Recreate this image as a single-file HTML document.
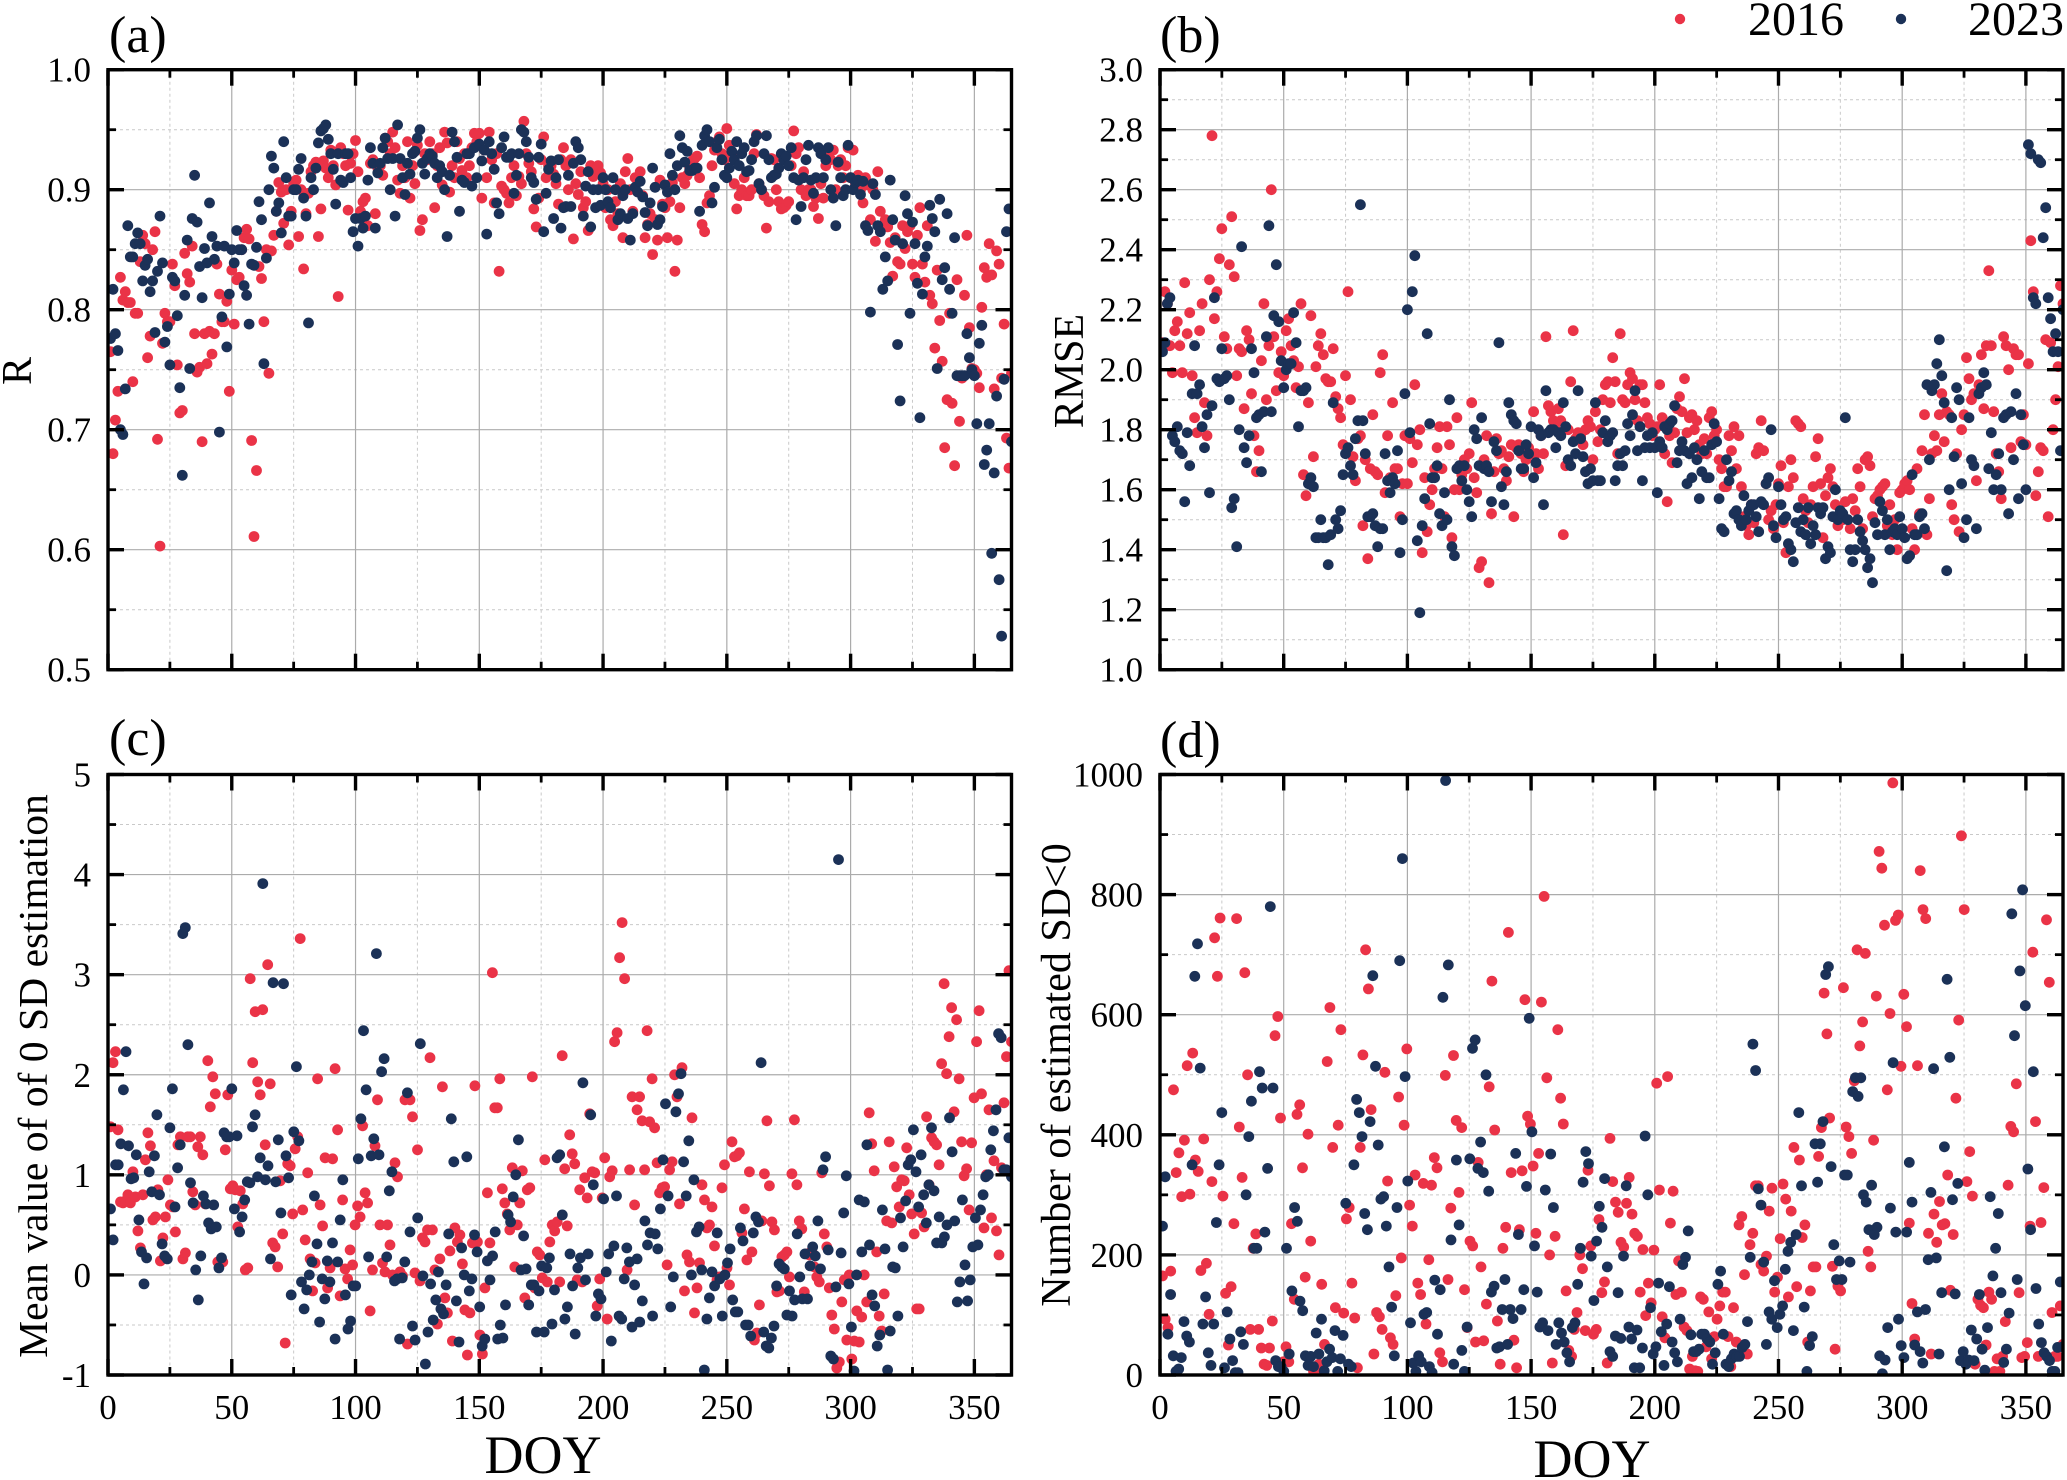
<!DOCTYPE html>
<html lang="en">
<head>
<meta charset="utf-8">
<title>DOY scatter panels</title>
<style>
html,body{margin:0;padding:0;background:#fff;}
svg{display:block;}
text{font-family:"Liberation Serif","Times New Roman",serif;fill:#000;}
</style>
</head>
<body>
<svg id="chart" xmlns="http://www.w3.org/2000/svg" width="2067" height="1480" viewBox="0 0 2067 1480">
  <rect width="2067" height="1480" fill="#fff"/>
  <text x="109" y="52" font-size="52">(a)</text>
  <text x="1160" y="52" font-size="52">(b)</text>
  <text x="109" y="755" font-size="52">(c)</text>
  <text x="1160" y="757" font-size="52">(d)</text>
  <text transform="translate(31,371) rotate(-90)" text-anchor="middle" font-size="42">R</text>
  <text transform="translate(1083,371) rotate(-90)" text-anchor="middle" font-size="42">RMSE</text>
  <text transform="translate(47,1076) rotate(-90)" text-anchor="middle" font-size="41.6">Mean value of of 0 SD estimation</text>
  <text transform="translate(1070,1075) rotate(-90)" text-anchor="middle" font-size="42">Number of estimated SD&lt;0</text>
  <text x="543" y="1473" text-anchor="middle" font-size="54">DOY</text>
  <text x="1592" y="1477" text-anchor="middle" font-size="54">DOY</text>
  <g>
    <circle cx="1680" cy="19" r="5.2" fill="#EA3347"/>
    <text x="1748" y="35" font-size="48">2016</text>
    <circle cx="1901" cy="19" r="5.2" fill="#1B3157"/>
    <text x="1968" y="35" font-size="48">2023</text>
  </g>
</svg>
<script>
const rRed = [.765,.68,.708,.732,.827,.808,.815,.806,.806,.74,.797,.797,.84,.862,.855,.76,.778,.85,.865,.692,.603,.772,.797,.79,.79,
.838,.82,.754,.714,.716,.847,.83,.823,.853,.78,.748,.752,.69,.78,.755,.782,.763,.78,.838,.813,.79,.79,.807,.732,.833,
.788,.825,.827,.85,.86,.867,.859,.691,.611,.666,.836,.826,.79,.85,.747,.849,.862,.882,.906,.898,.872,.9,.854,.882,.905,
.908,.861,.9,.834,.88,.897,.915,.92,.923,.861,.884,.924,.918,.91,.933,.92,.904,.811,.935,.93,.92,.883,.922,.93,.941,
.915,.882,.89,.893,.87,.922,.925,.88,.918,.92,.912,.943,.94,.93,.948,.935,.908,.897,.92,.91,.94,.893,.92,.905,.937,
.866,.875,.93,.925,.94,.93,.885,.92,.935,.904,.948,.939,.898,.92,.91,.94,.926,.916,.93,.91,.92,.935,.947,.94,.947,
.893,.933,.91,.948,.925,.889,.93,.832,.903,.9,.897,.889,.91,.92,.895,.911,.905,.957,.93,.922,.915,.884,.869,.893,.925,
.944,.91,.92,.92,.913,.905,.888,.925,.935,.92,.9,.925,.859,.905,.896,.915,.885,.89,.866,.92,.911,.915,.92,.914,.905,
.885,.9,.875,.87,.89,.88,.905,.86,.915,.926,.9,.882,.91,.908,.915,.895,.86,.871,.88,.846,.875,.858,.908,.888,.885,.86,.89,.906,.832,.858,.885,.91,.905,
.912,.918,.924,.926,.928,.91,.871,.865,.889,.895,.92,.933,.94,.944,.93,.925,.951,.937,.93,.905,.884,.895,.9,.91,.895,
.895,.9,.93,.946,.905,.9,.895,.868,.89,.926,.925,.9,.89,.884,.885,.887,.89,.92,.949,.93,.935,.9,.915,.895,.9,
.9,.886,.893,.876,.905,.893,.92,.93,.925,.933,.9,.92,.925,.91,.92,.935,.91,
.933,.905,.912,.9,.889,.91,.904,.875,.9,.857,.915,.882,.87,.875,.869,.856,.828,.86,.84,.838,.87,.851,.865,.87,.838,
.827,.862,.885,.838,.823,.87,.812,.805,.768,.833,.791,.757,.685,.725,.797,.722,.67,.825,.707,.743,.812,.862,.785,.751,.75,
.747,.735,.802,.835,.827,.855,.829,.734,.849,.838,.743,.788,.693,.668,.747];
const rNavy = [.776,.817,.78,.766,.70,.696,.734,.87,.844,.844,.855,.864,.855,.824,.837,.842,.815,.824,.781,.832,.878,.839,.773,.786,.754,
.827,.824,.795,.735,.662,.812,.858,.751,.876,.912,.873,.836,.81,.851,.839,.889,.861,.842,.853,.698,.794,.853,.769,.813,.85,
.839,.866,.85,.85,.82,.812,.788,.838,.837,.852,.89,.875,.755,.843,.9,.928,.918,.882,.889,.864,.94,.91,.878,.878,.9,
.9,.917,.926,.893,.878,.789,.91,.9,.918,.939,.949,.951,.954,.942,.93,.917,.888,.93,.908,.906,.93,.93,.91,.865,.876,
.853,.876,.868,.878,.908,.935,.922,.868,.914,.922,.935,.943,.926,.9,.926,.878,.954,.926,.91,.896,.922,.913,.93,.932,.943,
.95,.922,.913,.926,.93,.928,.922,.91,.92,.915,.9,.861,.912,.948,.94,.927,.882,.908,.906,.93,.93,.903,.935,.91,.938,
.924,.933,.863,.94,.93,.917,.889,.88,.935,.944,.927,.927,.93,.897,.912,.93,.95,.948,.94,.927,.91,.906,.892,.927,.938,
.865,.897,.917,.924,.876,.91,.925,.868,.885,.886,.912,.886,.922,.94,.935,.925,.878,.903,.915,.869,.9,.885,.9,.887,.91,
.9,.89,.885,.91,.9,.875,.88,.895,.9,.876,.858,.88,.902,.898,.907,.894,.881,.87,.889,.918,.902,.871,.875,.886,.904,.898,.93,.912,.9,.92,.945,.935,.923,
.932,.916,.916,.918,.918,.882,.937,.945,.95,.94,.889,.902,.935,.942,.925,.912,.91,.918,.932,.925,.94,.92,.93,.935,.915,
.916,.925,.94,.945,.905,.9,.93,.945,.925,.91,.912,.913,.918,.93,.925,.928,.92,.935,.91,.875,.908,.886,.91,.925,.937,
.908,.897,.91,.935,.93,.91,.925,.935,.9,.893,.87,.923,.91,.895,.9,.937,.91,
.9,.906,.908,.896,.907,.87,.866,.798,.905,.896,.87,.865,.817,.844,.824,.908,.875,.858,.771,.724,.855,.895,.88,.797,.873,
.855,.822,.71,.813,.844,.853,.887,.876,.865,.751,.892,.825,.835,.88,.817,.797,.86,.745,.745,.745,.745,.78,.76,.75,.745,
.705,.772,.787,.671,.683,.705,.597,.664,.728,.575,.528,.742,.865,.884,.69];
const rmseRed = [2.09,2.26,2.22,2.08,1.99,2.13,2.16,2.08,1.99,2.29,2.12,2.19,1.98,1.84,1.79,2.13,2.22,1.89,1.78,2.30,2.78,2.17,2.26,2.37,2.47,
2.11,2.07,2.35,2.51,2.31,1.98,2.07,2.06,1.87,2.13,2.10,1.92,1.78,1.66,1.73,2.03,2.22,1.90,2.08,2.60,2.11,1.93,1.99,2.06,1.98,
2.13,2.17,2.08,2.03,1.94,2.01,2.22,1.65,1.58,1.89,2.18,1.71,2.01,2.08,2.12,2.05,1.97,1.96,1.96,2.07,1.91,1.87,1.84,1.75,1.98,
2.26,1.90,1.71,1.63,1.77,1.78,1.48,1.70,1.37,1.67,1.85,1.66,1.65,1.99,2.05,1.59,1.78,1.64,1.89,1.67,1.67,1.51,1.62,1.78,1.62,
1.77,1.69,1.95,1.75,1.80,1.39,1.64,1.46,1.55,1.60,1.67,1.74,1.81,1.67,1.51,1.81,1.75,1.44,1.60,1.84,1.60,1.65,1.70,1.67,1.72,
1.89,1.64,1.59,1.34,1.36,1.70,1.78,1.29,1.52,1.66,1.77,1.72,1.73,1.67,1.63,1.71,1.75,1.51,1.74,1.75,1.72,1.66,1.70,1.74,1.72,
1.86,1.72,1.67,1.78,1.72,2.11,1.88,1.86,1.83,1.80,1.87,1.83,1.45,1.68,1.80,1.96,2.13,1.77,1.79,1.78,1.75,1.80,1.83,1.81,1.70,
1.86,1.76,1.80,1.90,1.95,1.96,1.89,2.04,1.96,1.72,2.12,1.90,1.89,1.95,1.99,1.97,1.90,1.83,1.95,1.95,1.89,1.84,1.82,1.78,1.80,
1.81,1.95,1.84,1.72,1.56,1.78,1.69,1.79,1.87,1.91,1.86,1.97,1.79,1.84,1.85,1.80,1.83,1.75,1.72,1.77,1.72,1.84,1.86,1.78,1.80,
1.70,1.67,1.61,1.61,1.78,1.73,1.81,1.67,1.78,1.61,1.51,1.48,1.45,1.55,1.49,1.72,1.74,1.83,1.73,1.62,1.50,1.53,1.47,1.55,1.62,
1.68,1.49,1.39,1.61,1.70,1.64,1.83,1.82,1.81,1.57,1.53,1.49,1.55,1.61,1.71,1.77,1.62,1.44,1.58,1.64,1.67,1.61,1.55,1.48,1.52,
1.50,1.56,1.50,1.47,1.57,1.53,1.67,1.61,1.47,1.70,1.71,1.68,1.51,1.57,1.58,1.60,1.61,1.62,1.48,1.55,1.45,1.50,1.40,1.59,1.60,
1.62,1.63,1.60,1.47,1.40,1.67,1.52,1.73,1.85,1.45,1.57,1.72,1.78,1.73,1.85,1.92,1.76,1.86,1.85,1.55,1.50,1.72,1.46,1.80,1.85,
2.04,1.97,1.90,1.92,1.63,1.95,2.05,1.87,2.08,2.33,2.08,1.86,1.72,1.66,1.57,2.11,2.08,2.00,1.74,2.07,2.05,2.05,1.76,1.85,1.75,
2.02,2.43,2.26,1.58,1.66,1.74,1.73,2.10,1.51,2.09,1.80,1.90,2.01,2.28,2.22];
const rmseNavy = [2.06,2.09,2.22,2.24,1.78,1.76,1.81,1.73,1.72,1.56,1.79,1.68,1.92,2.08,1.92,1.95,1.81,1.74,1.85,1.59,1.88,2.24,1.97,1.96,2.07,
1.97,1.98,1.90,1.54,1.57,1.41,1.80,2.41,1.74,1.69,1.78,2.07,1.99,1.84,1.85,1.66,1.86,2.11,2.48,1.86,2.18,2.35,2.16,2.03,1.94,
2.0,2.02,2.02,2.19,2.09,1.81,1.93,1.93,1.94,1.62,1.64,1.61,1.44,1.44,1.50,1.44,1.44,1.35,1.45,1.89,1.50,1.47,1.53,1.65,1.72,
1.74,1.68,1.65,1.77,1.83,2.55,1.83,1.72,1.51,1.51,1.52,1.48,1.41,1.47,1.47,1.72,1.63,1.59,1.64,1.62,1.73,1.39,1.50,1.92,2.2,
1.79,2.26,2.38,1.43,1.19,1.48,1.57,2.12,1.82,1.64,1.64,1.68,1.52,1.48,1.59,1.5,1.90,1.41,1.38,1.67,1.68,1.63,1.68,1.60,1.56,
1.51,1.80,1.77,1.68,1.84,1.67,1.68,1.66,1.56,1.76,1.73,2.09,1.61,1.55,1.66,1.89,1.85,1.83,1.82,1.73,1.67,1.67,1.75,1.72,1.81,
1.64,1.69,1.80,1.78,1.55,1.93,1.79,1.80,1.80,1.74,1.79,1.78,1.89,1.81,1.70,1.68,1.76,1.72,1.93,1.77,1.71,1.66,1.62,1.67,1.63,
1.89,1.63,1.63,1.79,1.83,1.76,1.78,1.79,1.63,1.68,1.72,1.68,1.73,1.82,1.78,1.85,1.93,1.73,1.81,1.63,1.74,1.78,1.74,1.79,1.74,
1.59,1.76,1.74,1.81,1.80,1.82,1.83,1.88,1.69,1.73,1.76,1.73,1.62,1.72,1.64,1.74,1.70,1.57,1.66,1.73,1.64,1.64,1.75,1.82,1.76,
1.57,1.47,1.46,1.70,1.63,1.66,1.52,1.53,1.50,1.48,1.58,1.50,1.53,1.55,1.55,1.51,1.46,1.56,1.55,1.62,1.64,1.80,1.48,1.44,1.61,
1.55,1.50,1.51,1.42,1.40,1.36,1.49,1.54,1.46,1.50,1.45,1.54,1.42,1.48,1.45,1.54,1.52,1.54,1.37,1.41,1.39,1.51,1.60,1.50,1.53,
1.52,1.84,1.50,1.40,1.36,1.40,1.50,1.46,1.43,1.40,1.34,1.37,1.29,1.49,1.45,1.56,1.53,1.45,1.50,1.40,1.46,1.47,1.45,1.51,1.47,
1.44,1.37,1.38,1.65,1.45,1.45,1.51,1.52,1.47,1.95,1.70,1.93,1.95,2.02,2.10,1.98,1.89,1.33,1.60,1.84,1.71,1.94,1.90,1.62,1.44,
1.50,1.84,1.70,1.68,1.47,1.92,1.94,1.99,1.95,1.67,1.79,1.60,1.65,1.72,1.60,1.84,1.85,1.52,1.86,1.70,1.92,1.57,1.85,1.75,1.60,
2.75,2.72,2.24,2.22,2.70,2.69,2.44,2.54,2.24,2.17,2.06,2.12,2.06,1.73,2.20];
const meanRed = [1.48,2.12,2.23,1.45,.73,.72,.74,.80,.72,1.03,.78,.44,.27,.80,1.15,1.42,1.29,.55,.58,.85,.14,.37,.58,.95,.70,
.68,.43,1.3,1.38,.16,.22,1.38,1.38,.83,.70,1.28,1.38,1.2,.71,2.14,1.68,1.98,1.81,.13,.13,.13,1.25,1.8,.86,.89,
.85,.48,.84,.71,.05,.07,2.96,2.12,2.63,1.93,1.8,2.65,1.3,3.1,1.91,.32,.28,.08,.94,.41,-.68,1.11,1.09,.61,1.26,
1.38,3.36,.65,.35,1.02,.16,-.16,.12,1.96,.7,.49,1.17,-.13,.07,1.16,2.06,1.45,-.21,.75,.06,-.04,.25,.1,.5,.69,
.58,1.49,.82,.72,-.36,.05,1.29,1.75,.5,.12,.03,.5,.3,.0,1.12,.98,.03,-.01,1.75,-.69,1.75,1.58,.02,1.25,-.06,
.37,.33,.45,2.17,.45,.05,-.49,.16,1.88,-.23,-.38,.24,-.66,.47,.33,.40,.11,-.35,-.8,-.38,.32,1.89,.33,-.6,-.79,
-.13,.82,.32,3.02,1.67,1.67,1.96,.86,.72,.61,.45,1.07,.08,.5,.72,1.04,-.23,.85,.87,1.98,-.13,.23,.2,-.03,1.15,
-.07,.33,.5,.44,.53,-.07,2.19,1.06,.49,1.4,1.21,1.11,-.05,.85,-.07,.97,.77,1.61,1.03,1.02,-.31,-.04,.77,1.17,-.44,
.98,1.04,2.33,2.42,3.17,3.52,2.96,.05,1.05,1.78,.7,1.65,1.78,1.54,1.05,2.44,1.53,1.96,1.47,1.12,.82,.87,.88,.1,1.05,
1.13,2.0,1.78,.71,2.07,-.16,.2,.13,1.57,-.38,-.13,.12,.9,.75,.47,.5,.68,.29,-.05,-.02,.87,1.1,.07,-.1,1.33,
1.18,1.19,1.22,.42,.66,.15,1.03,.23,-.65,-.58,-.3,.54,1.01,1.54,.89,.53,.45,-.17,-.16,.18,.2,.23,-.02,1.01,1.55,
.9,.54,.46,-.17,.21,.2,.24,.08,-.02,-.07,1.02,.41,.28,-.13,-.4,-.54,-.93,-.87,-.27,-.05,-.65,0,-.84,-.66,-.36,
-.67,-.42,0,-.27,1.62,1.31,1.04,.23,-.41,-.56,-.19,.54,1.33,.52,1.08,.88,.68,.95,.94,1.27,.80,.61,.41,-.34,-.34,
.62,.48,1.58,.9,1.37,1.33,1.3,1.1,2.11,2.91,2.01,2.38,2.67,1.63,2.55,1.96,1.33,.99,1.06,.65,1.32,1.77,2.33,2.64,1.81,
.47,1.0,1.65,.57,1.14,.44,.2,1.07,1.72,2.18,3.04,2.33];
const meanNavy = [.66,.35,1.1,1.1,1.31,1.85,2.23,1.29,.96,.97,1.2,.55,.23,-.09,.17,1.03,.83,1.19,1.6,.8,.31,.19,.16,1.47,1.86,
.68,1.07,1.3,3.41,3.47,2.3,.92,.72,.05,-.25,.19,.79,.71,.52,.46,.7,.48,.07,.17,1.42,1.38,1.38,1.86,.66,1.39,
.43,.58,.75,.93,.92,1.48,1.6,.98,1.17,3.91,.95,1.09,.16,2.92,.93,1.35,.62,2.91,1.19,.97,-.2,1.43,2.08,1.34,-.07,
-.34,-.15,0,.13,.79,.31,-.47,-.04,-.24,.14,-.07,.32,-.64,.13,.55,.95,-.2,-.54,-.46,-.11,-.11,1.16,1.56,2.44,1.85,
.18,1.19,1.36,3.21,1.2,2.03,2.16,.18,.84,1.03,-.06,-.04,-.64,-.03,.13,1.82,.43,-.51,-.65,.57,2.31,-.01,-.89,-.57,-.09,
-.45,-.25,.03,-.34,-.39,-.1,.41,1.56,1.13,-.26,-.67,.27,0,1.18,-.16,-.04,.4,.23,-.32,-.71,-.64,.14,-.05,.19,.43,
-.64,-.5,-.63,-.3,.6,.53,.78,1,1.35,.05,.39,.06,-.3,-.1,-.1,-.57,-.16,.09,-.57,.07,.17,-.49,-.15,1.17,1.2,
.6,-.44,-.32,.21,-.11,-.59,.07,.17,1.92,-.05,.21,1.6,.9,-.41,-.19,-.24,.76,.03,.21,-.66,.29,.79,-.41,-.44,-.04,
.27,.13,-.52,-.1,.16,-.47,-.26,.54,.3,.42,-.41,.41,.26,.66,1.15,1.71,.79,-.32,-.02,1.63,1.81,2.01,1.13,.79,1.34,
0,.95,.43,.48,.05,-.95,-.44,-.23,.03,-.11,.42,-.04,-.41,0,.12,.26,-.25,-.37,-.37,.47,.34,-.5,-.5,-.61,.42,
.58,.53,2.12,-.57,-.71,-.73,-.63,-.51,-.11,.11,.08,.06,-.4,-.16,-.41,-.25,.41,-.02,-.24,.21,-.24,.09,.28,.19,.54,
.06,1.05,1.18,.25,-.81,-.84,-.12,4.15,.22,.62,.99,-.09,-.52,-.96,0,.75,.23,.73,1.3,.3,-.2,-.31,-.71,-.6,.65,.26,
-.95,-.56,.08,.07,-.41,.57,.28,.74,1.1,1.15,1.45,1.03,.68,1.2,.8,.52,.9,1.47,.84,.32,.58,.32,.38,.5,1.57,
1.23,.54,-.27,-.07,.75,.1,-.26,-.05,.28,.57,.3,.65,.8,.98,1.0,1.25,1.44,1.65,2.41,2.37,1.05,1.05,1.37,.98];
const countRed = [165,93,79,173,475,337,370,297,391,515,301,536,358,339,174,393,186,101,322,728,664,761,298,136,50,
147,252,760,413,329,670,500,76,211,235,76,45,18,16,45,90,565,597,428,22,47,22,252,126,434,
450,345,163,401,223,6,6,18,151,51,522,612,379,112,416,575,103,260,279,153,95,12,379,533,708,
643,442,35,104,97,76,504,323,62,51,132,463,195,416,543,283,248,333,153,134,319,85,192,316,362,
345,37,22,499,159,278,532,424,304,412,142,79,223,215,55,354,180,57,118,480,656,408,90,18,211,
246,737,337,58,12,242,340,625,431,418,348,236,369,621,797,495,200,20,231,575,461,418,140,41,31,
76,104,200,177,74,341,215,68,76,259,137,155,20,394,322,288,271,221,213,286,329,268,236,231,138,
209,99,153,120,208,486,308,97,62,497,253,306,134,190,138,80,74,10,31,7,6,130,126,47,105,
27,64,93,115,138,138,64,14,112,55,250,264,167,35,217,236,315,315,184,173,198,273,311,138,163,
227,318,293,130,273,379,147,358,229,250,55,140,180,180,364,412,636,568,428,181,43,148,140,645,413,
397,369,490,708,548,588,702,206,180,391,631,872,844,749,475,602,986,757,766,514,634,580,253,119,60,
515,840,775,760,236,35,268,221,289,250,252,333,141,234,461,591,898,775,322,372,298,18,126,116,112,
50,138,126,6,27,6,31,89,316,414,405,485,137,29,31,54,248,704,422,31,254,312,758,654,104,
31,31,115,51];
const countNavy = [248,330,68,134,32,6,10,29,89,65,55,350,664,718,511,85,130,37,16,85,254,350,437,12,105,
60,24,4,4,72,51,300,397,456,211,211,505,478,238,344,780,478,24,14,14,6,211,35,140,279,
256,123,107,32,16,31,14,70,35,93,7,22,43,29,74,6,27,66,286,18,14,350,459,437,397,
269,242,422,665,514,383,293,297,248,180,113,32,279,690,860,497,323,87,20,6,32,22,101,104,14,
4,158,68,142,629,990,683,225,18,358,250,41,6,80,360,544,558,344,388,337,500,306,138,148,45,
47,109,159,51,109,94,369,234,109,142,314,594,405,215,138,80,87,308,74,368,279,51,87,70,55,
37,22,79,87,151,211,321,372,352,198,124,223,281,246,327,180,39,31,65,137,61,198,315,80,60,
12,75,12,45,398,300,112,35,47,153,72,16,85,147,55,37,22,93,184,196,240,67,39,39,43,
68,68,60,55,18,37,151,173,68,18,14,27,35,31,31,46,51,89,196,551,507,310,283,188,51,
105,93,157,79,101,115,176,206,221,74,234,437,315,113,6,49,64,385,321,385,422,667,680,347,217,
159,190,159,333,333,188,472,495,464,495,300,288,242,316,234,246,32,2,25,79,278,520,238,93,49,
29,238,354,288,50,105,39,20,109,192,304,510,195,35,137,380,659,529,292,135,319,24,39,18,25,
75,24,60,134,43,8,79,297,165,211,269,137,21,43,103,768,565,159,673,808,615,343,242,505,144,
85,54,37,31,24,6,6,46,155,47];

const xTicksMajor = [0,50,100,150,200,250,300,350];
const xTicksMinor = [25,75,125,175,225,275,325];
const rTicksMajor = ['0.5','0.6','0.7','0.8','0.9','1.0'];
const rTicksMinor = [.55,.65,.75,.85,.95];
const rmseTicksMajor = ['1.0','1.2','1.4','1.6','1.8','2.0','2.2','2.4','2.6','2.8','3.0'];
const rmseTicksMinor = [1.1,1.3,1.5,1.7,1.9,2.1,2.3,2.5,2.7,2.9];
const meanTicksMajor = ['-1','0','1','2','3','4','5'];
const meanTicksMinor = [-.5,.5,1.5,2.5,3.5,4.5];
const countTicksMajor = ['0','200','400','600','800','1000'];
const countTicksMinor = [100,300,500,700,900];

const NS = 'http://www.w3.org/2000/svg';
const svg = document.getElementById('chart');
const COLOR_RED = '#EA3347';
const COLOR_NAVY = '#1B3157';
const DOY_MAX = 365;

function mk(parent, tag, attrs) {
  const el = document.createElementNS(NS, tag);
  for (const k in attrs) el.setAttribute(k, attrs[k]);
  parent.appendChild(el);
  return el;
}

function drawPanel(p) {
  const xS = v => p.left + (v / DOY_MAX) * (p.right - p.left);
  const yS = v => p.bottom - ((v - p.min) / (p.max - p.min)) * (p.bottom - p.top);

  const g = mk(svg, 'g', {});
  
  

  const clip = mk(g, 'clipPath', { id: 'clip-' + p.id });
  mk(clip, 'rect', { x: p.left, y: p.top, width: p.right - p.left, height: p.bottom - p.top });

  p.yMinor.forEach(v => {
    const l = mk(g, 'line', { x1: p.left, x2: p.right, y1: yS(v), y2: yS(v), stroke: '#c9c9c9', 'stroke-width': 1, 'stroke-dasharray': '3 3' });
    
    
  });
  xTicksMinor.forEach(v => {
    const l = mk(g, 'line', { x1: xS(v), x2: xS(v), y1: p.top, y2: p.bottom, stroke: '#c9c9c9', 'stroke-width': 1, 'stroke-dasharray': '3 3' });
    
    
  });
  p.yMajor.forEach(s => {
    const v = parseFloat(s);
    const l = mk(g, 'line', { x1: p.left, x2: p.right, y1: yS(v), y2: yS(v), stroke: '#ababab', 'stroke-width': 1.2 });
    
    
  });
  xTicksMajor.forEach(v => {
    const l = mk(g, 'line', { x1: xS(v), x2: xS(v), y1: p.top, y2: p.bottom, stroke: '#ababab', 'stroke-width': 1.2 });
    
    
  });

  const marks = mk(g, 'g', { 'clip-path': 'url(#clip-' + p.id + ')' });
  
  
  [[p.red, COLOR_RED, '2016'], [p.navy, COLOR_NAVY, '2023']].forEach(([vals, color, year]) => {
    vals.forEach((v, i) => {
      const doy = 1 + i * (DOY_MAX - 1) / (vals.length - 1);
      const c = mk(marks, 'circle', { cx: xS(doy).toFixed(1), cy: yS(v).toFixed(1), r: 5.4, fill: color });
      
      
    });
  });

  const frame = mk(g, 'rect', { x: p.left, y: p.top, width: p.right - p.left, height: p.bottom - p.top, fill: 'none', stroke: '#000', 'stroke-width': 3.4 });
  
  

  const tick = (x1, y1, x2, y2, w, name) => {
    const t = mk(g, 'line', { x1, y1, x2, y2, stroke: '#000', 'stroke-width': w });
    
    
  };
  xTicksMajor.forEach(v => {
    tick(xS(v), p.bottom, xS(v), p.bottom - 16, 3.4, 'x-tick-major');
    tick(xS(v), p.top, xS(v), p.top + 16, 3.4, 'x-tick-major');
  });
  xTicksMinor.forEach(v => {
    tick(xS(v), p.bottom, xS(v), p.bottom - 8, 2.8, 'x-tick-minor');
    tick(xS(v), p.top, xS(v), p.top + 8, 2.8, 'x-tick-minor');
  });
  p.yMajor.forEach(s => {
    const v = parseFloat(s);
    tick(p.left, yS(v), p.left + 16, yS(v), 3.4, 'y-tick-major');
    tick(p.right, yS(v), p.right - 16, yS(v), 3.4, 'y-tick-major');
    const t = mk(g, 'text', { x: p.left - 17, y: yS(v) + 12, 'text-anchor': 'end', 'font-size': 35 });
    
    
    t.textContent = s;
  });
  p.yMinor.forEach(v => {
    tick(p.left, yS(v), p.left + 8, yS(v), 2.8, 'y-tick-minor');
    tick(p.right, yS(v), p.right - 8, yS(v), 2.8, 'y-tick-minor');
  });
  if (p.xLabels) {
    xTicksMajor.forEach(v => {
      const t = mk(g, 'text', { x: xS(v), y: p.bottom + 44, 'text-anchor': 'middle', 'font-size': 35 });
      
      
      t.textContent = String(v);
    });
  }
}

drawPanel({ id: 'a', left: 108, right: 1011.5, top: 69.7, bottom: 669.7, min: .5, max: 1, yMajor: rTicksMajor, yMinor: rTicksMinor, red: rRed, navy: rNavy, xLabels: false });
drawPanel({ id: 'b', left: 1160, right: 2063, top: 69.7, bottom: 669.7, min: 1, max: 3, yMajor: rmseTicksMajor, yMinor: rmseTicksMinor, red: rmseRed, navy: rmseNavy, xLabels: false });
drawPanel({ id: 'c', left: 108, right: 1011.5, top: 774.5, bottom: 1375, min: -1, max: 5, yMajor: meanTicksMajor, yMinor: meanTicksMinor, red: meanRed, navy: meanNavy, xLabels: true });
drawPanel({ id: 'd', left: 1160, right: 2063, top: 774.5, bottom: 1375, min: 0, max: 1000, yMajor: countTicksMajor, yMinor: countTicksMinor, red: countRed, navy: countNavy, xLabels: true });
</script>
</body>
</html>
